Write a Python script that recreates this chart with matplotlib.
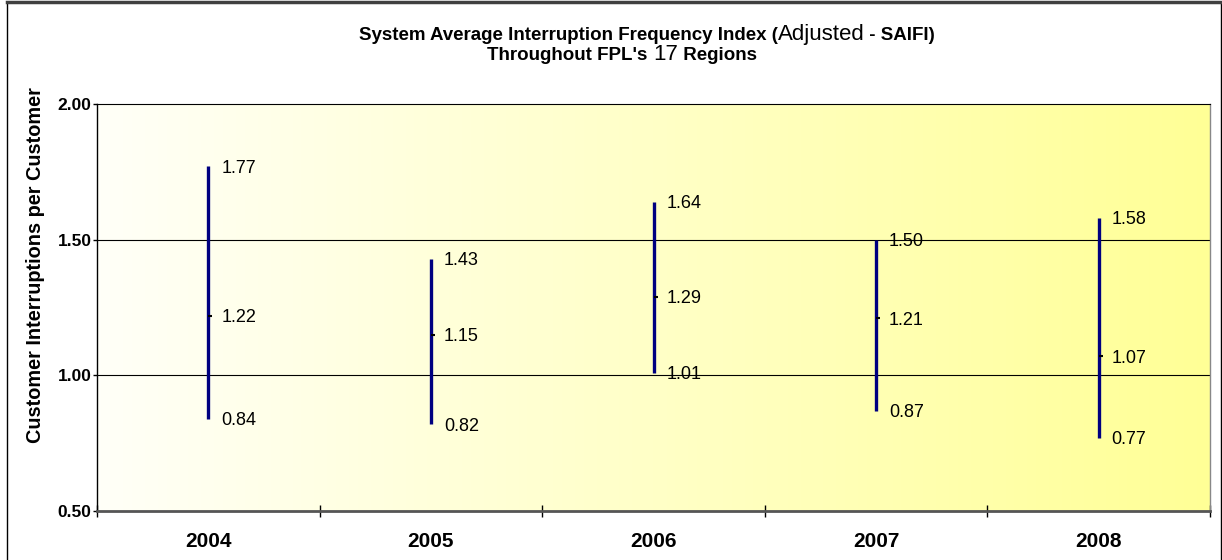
import numpy as np
import matplotlib.pyplot as plt
from matplotlib.lines import Line2D

years = ['2004', '2005', '2006', '2007', '2008']
high = [1.77, 1.43, 1.64, 1.50, 1.58]
close = [1.22, 1.15, 1.29, 1.21, 1.07]
low = [0.84, 0.82, 1.01, 0.87, 0.77]
yticks = [0.50, 1.00, 1.50, 2.00]

plt.rcParams['font.family'] = ['Liberation Sans', 'DejaVu Sans']

W, H = 1222, 560
fig = plt.figure(figsize=(W / 100, H / 100), dpi=100)
ax = fig.add_axes([97 / W, 49 / H, 1113 / W, 407 / H])

# white -> yellow horizontal gradient in the plot area
t = np.linspace(0, 1, 256)
c0 = np.array([255, 255, 248]) / 255
c1 = np.array([255, 255, 150]) / 255
grad = c0 + (c1 - c0) * t[:, None]
ax.imshow(grad[None, :, :], extent=[-0.5, 4.5, 0.5, 2.0], aspect='auto', zorder=0)

ax.set_xlim(-0.5, 4.5)
ax.set_ylim(0.5, 2.0)

for g in [1.0, 1.5]:
    ax.axhline(g, color='black', lw=0.8, zorder=1)

x = np.arange(len(years))
ax.vlines(x, low, high, color='#000080', lw=2.4, zorder=3)
ax.plot(x, close, ls='none', marker=1, ms=3, mew=1.5, color='black', zorder=4)

for i in range(len(years)):
    for v in (high[i], close[i], low[i]):
        ax.annotate(f'{v:.2f}', (i, v), xytext=(13, -2), textcoords='offset pixels',
                    fontsize=13, ha='left', va='center', zorder=5)

# axes styling
ax.spines['left'].set_color('black')
ax.spines['left'].set_linewidth(1)
ax.spines['bottom'].set_color('#555555')
ax.spines['bottom'].set_linewidth(2)
ax.spines['top'].set_color('black')
ax.spines['top'].set_linewidth(0.8)
ax.spines['right'].set_color('#888888')
ax.spines['right'].set_linewidth(1)

ax.set_yticks(yticks)
ax.set_yticklabels([f'{v:.2f}' for v in yticks], fontsize=12.5, fontweight='bold')
ax.tick_params(axis='y', direction='out', length=3, width=1, pad=1)

ax.set_xticks(x)
ax.set_xticklabels(years, fontsize=15, fontweight='bold')
ax.tick_params(axis='x', which='major', length=0, pad=15)
ax.set_xticks(np.arange(-0.5, 5, 1), minor=True)
ax.tick_params(axis='x', which='minor', direction='inout', length=8, width=1)

fig.text(36 / W, 1 - 265 / H, 'Customer Interruptions per Customer', rotation=90,
         ha='center', va='center', fontsize=14.3, fontweight='bold')

# title built from pieces with mixed sizes
renderer = fig.canvas.get_renderer()


def title_line(pieces, cx, base_y):
    texts = []
    for s, fs, w in pieces:
        texts.append(fig.text(0, 1 - base_y / H, s, fontsize=fs, fontweight=w, va='baseline'))
    widths = [tx.get_window_extent(renderer).width for tx in texts]
    left = cx - sum(widths) / 2
    for tx, wd in zip(texts, widths):
        tx.set_x(left / W)
        left += wd


title_line([('System Average Interruption Frequency Index (', 13.5, 'bold'),
            ('Adjusted', 16, 'normal'),
            (' - SAIFI)', 13.5, 'bold')], 647, 40)
title_line([("Throughout FPL's ", 13.5, 'bold'),
            ('17', 16, 'normal'),
            (' Regions', 13.5, 'bold')], 622, 60)

# outer chart border
fig.add_artist(Line2D([7.5 / W, 7.5 / W], [0, 1 - 2 / H], color='black', lw=1))
fig.add_artist(Line2D([1220.5 / W, 1220.5 / W], [0, 1 - 2 / H], color='black', lw=1))
fig.add_artist(Line2D([7.5 / W, 1220.5 / W], [1 - 2 / H, 1 - 2 / H], color='#404040', lw=2.5))

fig.savefig('out.png', dpi=100)
